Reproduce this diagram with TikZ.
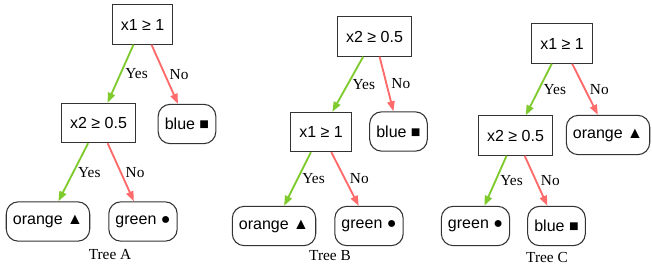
\documentclass[tikz,border=0pt]{standalone}
\usepackage{fontspec}
\setmainfont{Liberation Serif}
\newfontfamily\helv{Liberation Sans}
\usetikzlibrary{arrows.meta,positioning}
\definecolor{yescol}{HTML}{7FCB2E}
\definecolor{nocol}{HTML}{FF6A6A}

\begin{document}
\begin{tikzpicture}[
  x=0.75pt, y=-0.75pt,
  every node/.style={font=\fontsize{11.5}{13}\selectfont},
  split/.style={draw=black!80, line width=0.8pt, rectangle, inner xsep=6.3pt,
    minimum height=29.5pt, font=\helv\fontsize{12}{14}\selectfont},
  leaf/.style={split, rounded corners=9pt, inner xsep=5pt},
  yes/.style={-{Triangle[length=7.5pt,width=5.5pt]}, yescol, line width=1.4pt},
  no/.style={-{Triangle[length=7.5pt,width=5.5pt]}, nocol, line width=1.4pt},
  lbl/.style={midway, anchor=west, inner sep=1pt, xshift=2pt, text=black},
  treename/.style={font=\fontsize{11.5}{13}\selectfont}
]
\useasboundingbox (0,0) rectangle (652,267);
\node[split] (aroot) at (142.5,24.5) {x1 ≥ 1};
\node[split] (ax2) at (98.5,123) {x2 ≥ 0.5};
\node[leaf] (ablue) at (187,124) {blue {\large ■}};
\node[leaf] (aorange) at (48,221.5) {orange {\large ▲}};
\node[leaf] (agreen) at (143,221.5) {green ●};
\node[treename] (acap) at (110,255) {Tree A};
\draw[yes] (aroot) -- (ax2) node[lbl] {Yes};
\draw[no] (aroot) -- (ablue) node[lbl] {No};
\draw[yes] (ax2) -- (aorange) node[lbl] {Yes};
\draw[no] (ax2) -- (agreen) node[lbl] {No};
\node[split] (broot) at (374.5,36.5) {x2 ≥ 0.5};
\node[split] (bx1) at (321,132) {x1 ≥ 1};
\node[leaf] (bblue) at (398.5,131.5) {blue {\large ■}};
\node[leaf] (borange) at (274,226) {orange {\large ▲}};
\node[leaf] (bgreen) at (369,226) {green ●};
\node[treename] (bcap) at (330,256) {Tree B};
\draw[yes] (broot) -- (bx1) node[lbl] {Yes};
\draw[no] (broot) -- (bblue) node[lbl] {No};
\draw[yes] (bx1) -- (borange) node[lbl] {Yes};
\draw[no] (bx1) -- (bgreen) node[lbl] {No};
\node[split] (croot) at (562,43.5) {x1 ≥ 1};
\node[split] (cx2) at (515.5,135.5) {x2 ≥ 0.5};
\node[leaf] (corange) at (608,135) {orange {\large ▲}};
\node[leaf] (cgreen) at (475.5,226) {green ●};
\node[leaf] (cblue) at (556.5,226) {blue {\large ■}};
\node[treename] (ccap) at (547,257) {Tree C};
\draw[yes] (croot) -- (cx2) node[lbl] {Yes};
\draw[no] (croot) -- (corange) node[lbl] {No};
\draw[yes] (cx2) -- (cgreen) node[lbl] {Yes};
\draw[no] (cx2) -- (cblue) node[lbl] {No};
\end{tikzpicture}
\end{document}
